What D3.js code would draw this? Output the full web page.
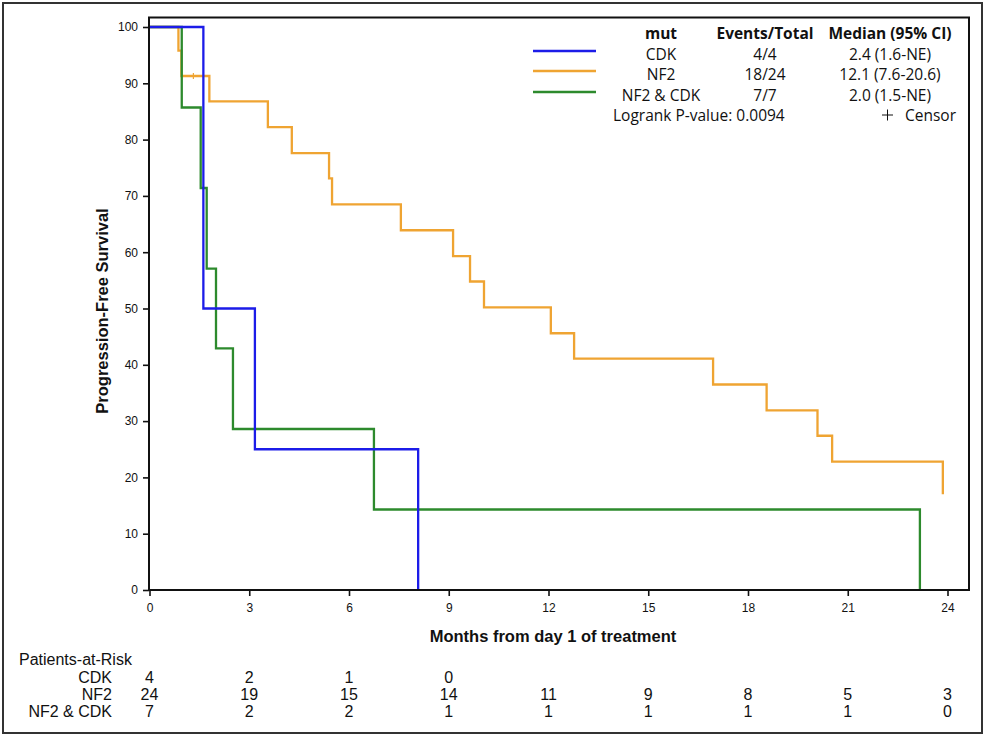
<!DOCTYPE html>
<html>
<head>
<meta charset="utf-8">
<script src="https://cdn.jsdelivr.net/npm/d3@7"></script>
<style>
  body { margin: 0; background: #fff; }
  text { fill: #111; }
</style>
</head>
<body>
<div id="root"></div>
<script>
const width = 990
const height = 744

// step data (months, % progression-free)
const cdkTimes = [0, 1.62, 3.17, 8.08]
const cdkSurv = [100, 50, 25, 0]
const nf2Times = [0, 0.87, 0.96, 1.80, 3.56, 4.28, 5.40, 5.49, 7.56, 9.13, 9.64, 10.06, 12.07, 12.77, 16.95, 18.56, 20.09, 20.53, 23.86]
const nf2Surv = [100, 95.8, 91.3, 86.8, 82.2, 77.6, 73.1, 68.5, 63.9, 59.3, 54.8, 50.2, 45.6, 41.1, 36.5, 31.9, 27.4, 22.8, 17.0]
const bothTimes = [0, 0.97, 1.54, 1.72, 2.0, 2.51, 6.75, 23.17]
const bothSurv = [100, 85.7, 71.4, 57.1, 42.9, 28.6, 14.3, 0]
const censorNF2 = [[1.32, 91.3]]

const groups = ['CDK', 'NF2', 'NF2 & CDK']
const colors = ['#1c1ce8', '#efa432', '#2d8a2d']
const eventsTotal = ['4/4', '18/24', '7/7']
const medians = ['2.4 (1.6-NE)', '12.1 (7.6-20.6)', '2.0 (1.5-NE)']
const pValue = 'Logrank P-value: 0.0094'

const xTicks = [0, 3, 6, 9, 12, 15, 18, 21, 24]
const yTicks = [0, 10, 20, 30, 40, 50, 60, 70, 80, 90, 100]
const riskCDK = [4, 2, 1, 0]
const riskNF2 = [24, 19, 15, 14, 11, 9, 8, 5, 3]
const riskBoth = [7, 2, 2, 1, 1, 1, 1, 1, 0]

const svg = d3.select('#root').append('svg')
  .attr('width', width)
  .attr('height', height)

const sans = '"Liberation Sans", Arial, sans-serif'
const legendFont = '"Open Sans", "Noto Sans", sans-serif'

// outer border
svg.append('rect')
  .attr('x', 3).attr('y', 3)
  .attr('width', 979).attr('height', 730)
  .attr('fill', 'none')
  .attr('stroke', '#333')
  .attr('stroke-width', 2)

const x = d3.scaleLinear().domain([0, 24]).range([149.5, 947.5])
const y = d3.scaleLinear().domain([0, 100]).range([590, 27])

const frame = { left: 149, top: 17.5, right: 969, bottom: 590 }

// axes
const xAxis = svg.append('g')
  .attr('transform', `translate(0,${frame.bottom})`)
  .call(d3.axisBottom(x).tickValues(xTicks).tickSize(6).tickPadding(7))
xAxis.select('.domain').remove()
xAxis.selectAll('line').attr('stroke', '#111').attr('stroke-width', 1.6)
xAxis.selectAll('text').attr('font-family', sans).attr('font-size', 12).attr('fill', '#111')

const yAxis = svg.append('g')
  .attr('transform', `translate(${frame.left},0)`)
  .call(d3.axisLeft(y).tickValues(yTicks).tickSize(6).tickPadding(5))
yAxis.select('.domain').remove()
yAxis.selectAll('line').attr('stroke', '#111').attr('stroke-width', 1.6)
yAxis.selectAll('text').attr('font-family', sans).attr('font-size', 12).attr('fill', '#111')

svg.append('text')
  .attr('x', 553).attr('y', 642)
  .attr('text-anchor', 'middle')
  .attr('font-family', sans).attr('font-weight', 'bold').attr('font-size', 16.5)
  .text('Months from day 1 of treatment')

svg.append('text')
  .attr('transform', 'translate(108,311) rotate(-90)')
  .attr('text-anchor', 'middle')
  .attr('font-family', sans).attr('font-weight', 'bold').attr('font-size', 16.5)
  .text('Progression-Free Survival')

// curves
const line = d3.line()
  .x(d => x(d[0]))
  .y(d => y(d[1]))
  .curve(d3.curveStepAfter)

const series = [
  { name: 'NF2', t: nf2Times, s: nf2Surv, color: colors[1] },
  { name: 'NF2 & CDK', t: bothTimes, s: bothSurv, color: colors[2] },
  { name: 'CDK', t: cdkTimes, s: cdkSurv, color: colors[0] }
]

series.forEach(d => {
  svg.append('path')
    .attr('d', line(d.t.map((t, i) => [t, d.s[i]])))
    .attr('fill', 'none')
    .attr('stroke', d.color)
    .attr('stroke-width', 2.3)
})

svg.selectAll('.censor')
  .data(censorNF2)
  .join('path')
  .attr('class', 'censor')
  .attr('d', d => `M${x(d[0])},${y(d[1]) - 3}V${y(d[1]) + 3}`)
  .attr('stroke', colors[1])
  .attr('stroke-width', 1.2)

// plot frame
svg.append('rect')
  .attr('x', frame.left).attr('y', frame.top)
  .attr('width', frame.right - frame.left).attr('height', frame.bottom - frame.top)
  .attr('fill', 'none')
  .attr('stroke', '#111')
  .attr('stroke-width', 2)

// legend
const lg = svg.append('g').attr('font-family', legendFont).attr('font-size', 15.5)
const colX = [661, 765, 890]
const rowY = [39, 60, 80, 101]
lg.selectAll('.hdr')
  .data(['mut', 'Events/Total', 'Median (95% CI)'])
  .join('text')
  .attr('x', (d, i) => colX[i]).attr('y', rowY[0])
  .attr('text-anchor', 'middle')
  .attr('font-weight', 'bold')
  .text(d => d)

groups.forEach((g, i) => {
  lg.append('line')
    .attr('x1', 533).attr('x2', 596)
    .attr('y1', rowY[i + 1] - 9).attr('y2', rowY[i + 1] - 9)
    .attr('stroke', colors[i]).attr('stroke-width', 2.3)
  ;[g, eventsTotal[i], medians[i]].forEach((t, j) => {
    lg.append('text')
      .attr('x', colX[j]).attr('y', rowY[i + 1])
      .attr('text-anchor', 'middle')
      .text(t)
  })
})

lg.append('text').attr('x', 613).attr('y', 121).text(pValue)
lg.append('text').attr('x', 956).attr('y', 121).attr('text-anchor', 'end').text('Censor')
lg.append('path')
  .attr('d', 'M882,115H893M887.5,109.5V120.5')
  .attr('stroke', '#111').attr('stroke-width', 1)

// patients at risk
const rt = svg.append('g').attr('font-family', sans).attr('font-size', 16)
rt.append('text').attr('x', 19).attr('y', 665).text('Patients-at-Risk')
const riskRows = [riskCDK, riskNF2, riskBoth]
const riskY = [683, 700, 717]
riskRows.forEach((row, i) => {
  rt.append('text')
    .attr('x', 112).attr('y', riskY[i])
    .attr('text-anchor', 'end')
    .text(groups[i])
  rt.selectAll(null)
    .data(row)
    .join('text')
    .attr('x', (d, j) => x(xTicks[j]))
    .attr('y', riskY[i])
    .attr('text-anchor', 'middle')
    .text(d => d)
})
</script>
</body>
</html>
